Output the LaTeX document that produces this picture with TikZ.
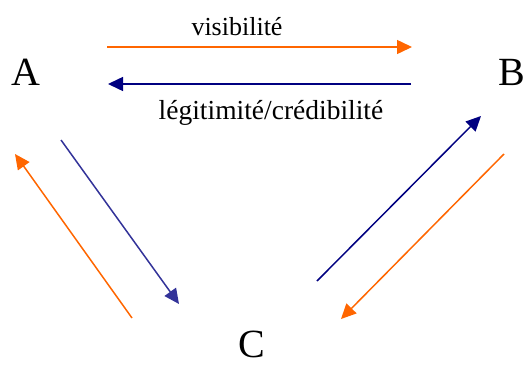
\documentclass[tikz,border=0pt]{standalone}
\usepackage{fontspec}
\setmainfont{Liberation Serif}
\usetikzlibrary{arrows.meta}
\definecolor{orng}{HTML}{FF6600}
\definecolor{navyb}{HTML}{000080}
\definecolor{indig}{HTML}{333399}
\tikzset{
  big/.style={font=\fontsize{40}{48}\selectfont, inner sep=0pt},
  lbl/.style={font=\fontsize{26}{30}\selectfont, inner sep=0pt, anchor=base},
  flow/.style={line width=1.5pt, -{Triangle[length=15pt,width=14pt]}},
}
\begin{document}
\begin{tikzpicture}[x=1pt,y=-1pt]
\useasboundingbox (0,0) rectangle (525,367);
\node[big] (A) at (26,72) {A};
\node[big] (B) at (512,72) {B};
\node[big] (C) at (252,344) {C};
\node[lbl] (vis) at (237,35) {visibilité};
\node[lbl, font=\fontsize{27.5}{30}\selectfont] (leg) at (271,119) {légitimité/crédibilité};
% end points
\coordinate (t1s) at (107,47);  \coordinate (t1e) at (412,47);
\coordinate (t2s) at (411,84);  \coordinate (t2e) at (108,84);
\coordinate (l1s) at (61,140);  \coordinate (l1e) at (179,304);
\coordinate (l2s) at (132,318); \coordinate (l2e) at (15,154);
\coordinate (r1s) at (317,281); \coordinate (r1e) at (481,116);
\coordinate (r2s) at (504,154); \coordinate (r2e) at (341,319);
\draw[flow, orng] (t1s) -- (t1e);
\draw[flow, navyb] (t2s) -- (t2e);
\draw[flow, indig] (l1s) -- (l1e);
\draw[flow, orng] (l2s) -- (l2e);
\draw[flow, navyb] (r1s) -- (r1e);
\draw[flow, orng] (r2s) -- (r2e);
\end{tikzpicture}
\end{document}
